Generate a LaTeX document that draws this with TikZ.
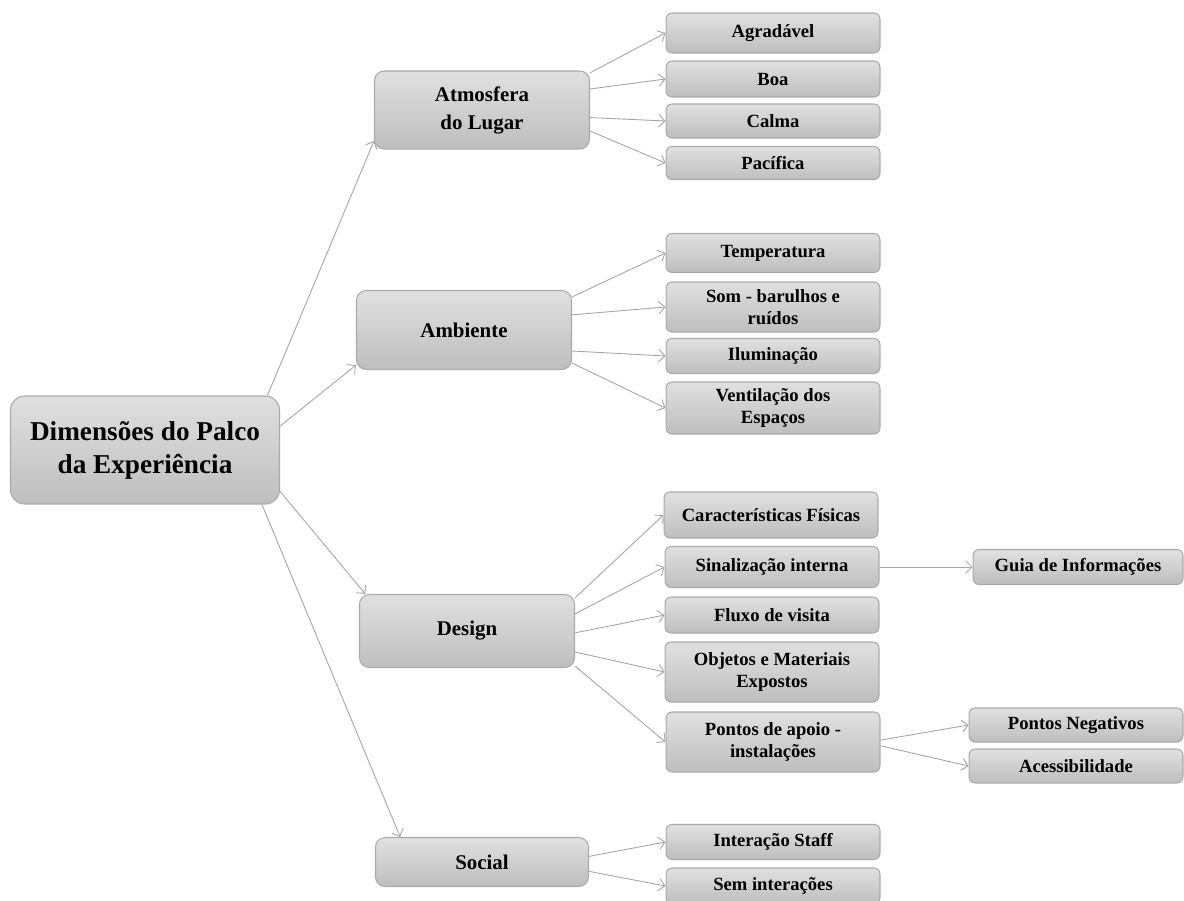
\documentclass[tikz,border=0pt]{standalone}
\usepackage{fontspec}
\setmainfont{Liberation Serif}
\usetikzlibrary{arrows.meta}
\definecolor{boxtop}{RGB}{224,224,224}
\definecolor{boxbot}{RGB}{190,190,190}
\definecolor{boxline}{RGB}{170,170,170}
\definecolor{linkgray}{RGB}{165,165,165}

\begin{document}
\begin{tikzpicture}
  [x=0.02cm,y=-0.02cm,
   box/.style={draw=boxline, line width=0.6pt, top color=boxtop, bottom color=boxbot, align=center, inner sep=0pt},
   leaf/.style={box, rounded corners=3.5pt, minimum width=4.28cm, font=\fontsize{10.6}{12.5}\selectfont\bfseries},
   mid/.style={box, rounded corners=5.5pt, minimum width=4.3cm, font=\fontsize{11.9}{15.9}\selectfont\bfseries},
   link/.style={draw=linkgray, line width=0.5pt, -{Straight Barb[length=3.5pt,width=7pt]}}]

 \useasboundingbox (0,0) rectangle (1184,900);
 \clip (0,0) rectangle (1184,900);

 \node[box, rounded corners=8pt, minimum width=5.38cm, minimum height=2.16cm, font=\fontsize{15.5}{18.7}\selectfont\bfseries] (root) at (145,450) {Dimensões do Palco\\da Experiência};

 \node[mid, minimum height=1.56cm] (atm) at (482,110) {Atmosfera\\do Lugar};
 \node[mid, minimum height=1.58cm] (amb) at (464,330) {Ambiente};
 \node[mid, minimum height=1.46cm] (des) at (467,631) {Design};
 \node[mid, minimum height=0.98cm, minimum width=4.26cm] (soc) at (482,862) {Social};

 \node[leaf, minimum height=0.80cm] (agr) at (773,33) {Agradável};
 \node[leaf, minimum height=0.72cm] (boa) at (773,79) {Boa};
 \node[leaf, minimum height=0.68cm] (cal) at (773,121) {Calma};
 \node[leaf, minimum height=0.66cm] (pac) at (773,163) {Pacífica};

 \node[leaf, minimum height=0.78cm] (tem) at (773,253) {Temperatura};
 \node[leaf, minimum height=1.00cm] (som) at (773,307) {Som - barulhos e\\ruídos};
 \node[leaf, minimum height=0.70cm] (ilu) at (773,356) {Iluminação};
 \node[leaf, minimum height=1.04cm] (ven) at (773,408) {Ventilação dos\\Espaços};

 \node[leaf, minimum height=0.92cm] (car) at (771,515) {Características Físicas};
 \node[leaf, minimum height=0.82cm] (sin) at (772,567) {Sinalização interna};
 \node[leaf, minimum height=0.72cm] (flu) at (772,615) {Fluxo de visita};
 \node[leaf, minimum height=1.20cm] (obj) at (772,672) {Objetos e Materiais\\Expostos};
 \node[leaf, minimum height=1.20cm] (pon) at (773,742) {Pontos de apoio -\\instalações};

 \node[leaf, minimum height=0.70cm, minimum width=4.2cm] (gui) at (1078,567) {Guia de Informações};
 \node[leaf, minimum height=0.68cm] (neg) at (1076,725) {Pontos Negativos};
 \node[leaf, minimum height=0.68cm] (ace) at (1076,766) {Acessibilidade};

 \node[leaf, minimum height=0.70cm] (int) at (773,842) {Interação Staff};
 \node[leaf, minimum height=0.72cm] (sem) at (773,886) {Sem interações};

 \foreach \from/\to in {root.24/atm.196, root.10/amb.198, root.343/des.160, root.335/soc.163,
     atm.19/agr.west, atm.11/boa.west, atm.356/cal.west, atm.349/pac.west,
     amb.17/tem.west, amb.8/som.west, amb.349/ilu.west, amb.343/ven.west,
     des.17/car.west, des.9/sin.west, des.359/flu.west, des.349/obj.west, des.342/pon.west,
     sin.east/gui.west, pon.1/neg.west, pon.358/ace.west, soc.3/int.west, soc.355/sem.west}
   \draw[link] (\from) -- (\to);

\end{tikzpicture}
\end{document}
